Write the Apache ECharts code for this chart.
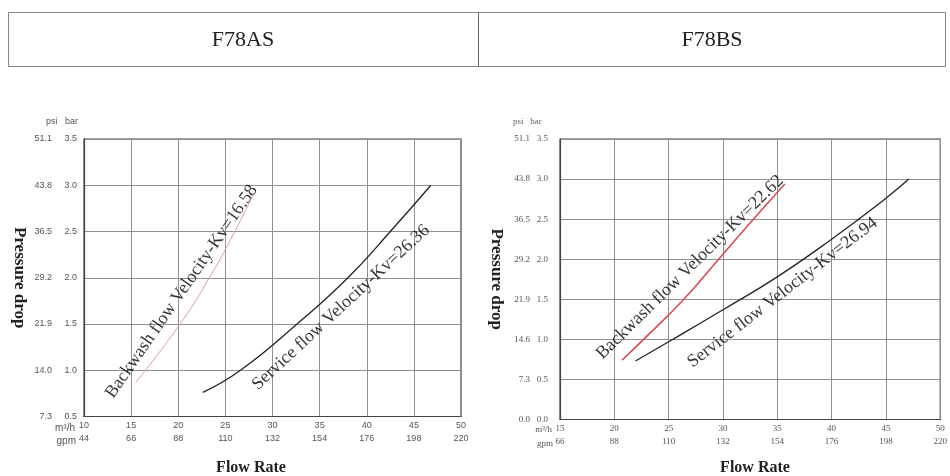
<!DOCTYPE html>
<html>
<head>
<meta charset="utf-8">
<script src="https://cdn.jsdelivr.net/npm/echarts@6/dist/echarts.min.js"></script>
<style>html,body{margin:0;padding:0;background:#fff}#c{width:950px;height:476px}</style>
</head>
<body>
<div id="c"></div>
<script>
// ---- data ----
const panelTitles = ['F78AS', 'F78BS'];
const leftFlowTicks = ['10','15','20','25','30','35','40','45','50'];
const leftGpmTicks = ['44','66','88','110','132','154','176','198','220'];
const leftBarTicks = ['0.5','1.0','1.5','2.0','2.5','3.0','3.5'];
const leftPsiTicks = ['7.3','14.0','21.9','29.2','36.5','43.8','51.1'];
const rightFlowTicks = ['15','20','25','30','35','40','45','50'];
const rightGpmTicks = ['66','88','110','132','154','176','198','220'];
const rightBarTicks = ['0.0','0.5','1.0','1.5','2.0','2.5','3.0','3.5'];
const rightPsiTicks = ['0.0','7.3','14.6','21.9','29.2','36.5','43.8','51.1'];

const leftBackwashFlow = [15.5, 20.2, 23.3, 26.0, 28.1];
const leftBackwashDrop = [0.87, 1.5, 2.0, 2.5, 2.93];
const leftServiceFlow  = [22.6, 26.6, 32.6, 38.0, 42.5, 46.8];
const leftServiceDrop  = [0.76, 1.0, 1.5, 2.0, 2.5, 3.0];
const rightBackwashFlow = [20.7, 22.7, 26.4, 29.6, 32.8, 35.7];
const rightBackwashDrop = [0.74, 1.0, 1.5, 2.0, 2.5, 2.94];
const rightServiceFlow  = [21.95, 25, 30, 35, 40, 45, 47.1];
const rightServiceDrop  = [0.73, 0.97, 1.37, 1.78, 2.25, 2.76, 3.0];

const curveLabels = [
  'Backwash flow Velocity-Kv=16.58', 'Service flow Velocity-Kv=26.36',
  'Backwash flow Velocity-Kv=22.62', 'Service flow Velocity-Kv=26.94'
];
const curveLabelFlow = [20.35, 37.26, 26.96, 35.49];
const curveLabelDrop = [1.85, 1.68, 1.90, 1.585];
const curveLabelAngle = [55.4, 42.7, 44.5, 37.6];

// ---- helpers ----
const zip = (a, b) => a.map((v, i) => [v, b[i]]);
const idx = (v, min, step) => Math.round((v - min) / step);
const SERIF = '"Liberation Serif", "DejaVu Serif", serif';
const SANS = '"Liberation Sans", Arial, sans-serif';

function xAxes(gridIndex, min, flowTicks, gpmTicks, font) {
  const base = {
    gridIndex, type: 'value', min, max: 50, interval: 5,
    axisTick: { show: false }
  };
  return [
    Object.assign({}, base, {
      axisLine: { show: true, lineStyle: { color: '#444', width: 1.2 } },
      splitLine: { show: true, lineStyle: { color: '#8f8f8f', width: 1 } },
      axisLabel: { margin: 5, fontSize: 9, fontFamily: font, color: '#555',
        formatter: v => flowTicks[idx(v, min, 5)] }
    }),
    Object.assign({}, base, {
      position: 'bottom', offset: 13,
      axisLine: { show: false }, splitLine: { show: false },
      axisLabel: { margin: 5, fontSize: 9, fontFamily: font, color: '#555',
        formatter: v => gpmTicks[idx(v, min, 5)] }
    })
  ];
}
function yAxes(gridIndex, min, barTicks, psiTicks, font, barMargin, psiOffset, nameGap) {
  const base = { gridIndex, type: 'value', min, max: 3.5, interval: 0.5, axisTick: { show: false } };
  return [
    Object.assign({}, base, {
      axisLine: { show: true, lineStyle: { color: '#444', width: 1.2 } },
      splitLine: { show: true, lineStyle: { color: '#8f8f8f', width: 1 } },
      axisLabel: { margin: barMargin, fontSize: 9, fontFamily: font, color: '#555',
        formatter: v => barTicks[idx(v, min, 0.5)] },
      name: 'Pressure drop', nameLocation: 'middle', nameRotate: -90, nameGap,
      nameTextStyle: { fontFamily: SERIF, fontSize: 17, fontWeight: 'bold', color: '#222' }
    }),
    Object.assign({}, base, {
      position: 'left', offset: psiOffset,
      axisLine: { show: false }, splitLine: { show: false },
      axisLabel: { margin: 0, fontSize: 9, fontFamily: font, color: '#555',
        formatter: v => psiTicks[idx(v, min, 0.5)] }
    })
  ];
}
function curveLabelSeries(k, xi, yi) {
  return {
    type: 'scatter', xAxisIndex: xi, yAxisIndex: yi, symbolSize: 0, silent: true,
    data: [[curveLabelFlow[k], curveLabelDrop[k]]],
    label: { show: true, position: 'inside', formatter: curveLabels[k],
      rotate: curveLabelAngle[k], align: 'center', verticalAlign: 'middle',
      fontFamily: SERIF, fontSize: 18, color: '#000' }
  };
}
const lineSeries = (data, xi, yi, color, width) => ({
  type: 'line', xAxisIndex: xi, yAxisIndex: yi, data, smooth: 0.5,
  showSymbol: false, silent: true, lineStyle: { color, width }
});

const chart = echarts.init(document.getElementById('c'), null, { renderer: 'canvas' });
chart.setOption({
  animation: false,
  backgroundColor: '#fff',
  grid: [
    { left: 84, top: 139, width: 377, height: 277.5, show: true, borderColor: '#444', borderWidth: 1.2 },
    { left: 560, top: 139, width: 384, height: 280.5, show: true, borderColor: '#444', borderWidth: 1.2 }
  ],
  xAxis: [].concat(
    xAxes(0, 10, leftFlowTicks, leftGpmTicks, SANS),
    xAxes(1, 15, rightFlowTicks, rightGpmTicks, SERIF)
  ),
  yAxis: [].concat(
    yAxes(0, 0.5, leftBarTicks, leftPsiTicks, SANS, 7, 32, 56),
    yAxes(1, 0, rightBarTicks, rightPsiTicks, SERIF, 12, 30, 55)
  ),
  series: [
    lineSeries(zip(leftBackwashFlow, leftBackwashDrop), 0, 0, '#e29a9a', 1),
    lineSeries(zip(leftServiceFlow, leftServiceDrop), 0, 0, '#222', 1.3),
    lineSeries(zip(rightBackwashFlow, rightBackwashDrop), 2, 2, '#d9474a', 1.5),
    lineSeries(zip(rightServiceFlow, rightServiceDrop), 2, 2, '#222', 1.3),
    curveLabelSeries(0, 0, 0),
    curveLabelSeries(1, 0, 0),
    curveLabelSeries(2, 2, 2),
    curveLabelSeries(3, 2, 2)
  ],
  graphic: [
    { type: 'rect', shape: { x: 8.5, y: 12.5, width: 937, height: 54 },
      style: { fill: 'none', stroke: '#888', lineWidth: 1 } },
    { type: 'line', shape: { x1: 478.5, y1: 12.5, x2: 478.5, y2: 66.5 },
      style: { stroke: '#666', lineWidth: 1 } },
    { type: 'text', x: 243, y: 40, style: { text: panelTitles[0], font: '22px ' + SERIF,
      fill: '#222', align: 'center', verticalAlign: 'middle' } },
    { type: 'text', x: 712, y: 40, style: { text: panelTitles[1], font: '22px ' + SERIF,
      fill: '#222', align: 'center', verticalAlign: 'middle' } },
    { type: 'text', x: 251, y: 468, style: { text: 'Flow Rate', font: 'bold 16px ' + SERIF,
      fill: '#222', align: 'center', verticalAlign: 'middle' } },
    { type: 'text', x: 755, y: 468, style: { text: 'Flow Rate', font: 'bold 16px ' + SERIF,
      fill: '#222', align: 'center', verticalAlign: 'middle' } },
    { type: 'text', x: 46, y: 122, style: { text: 'psi   bar', font: '9px ' + SANS,
      fill: '#555', align: 'left', verticalAlign: 'middle' } },
    { type: 'text', x: 513, y: 122, style: { text: 'psi   bar', font: '9px ' + SERIF,
      fill: '#666', align: 'left', verticalAlign: 'middle' } },
    { type: 'text', x: 75, y: 428, style: { text: 'm³/h', font: '10px ' + SANS,
      fill: '#555', align: 'right', verticalAlign: 'middle' } },
    { type: 'text', x: 76, y: 441, style: { text: 'gpm', font: '10px ' + SANS,
      fill: '#555', align: 'right', verticalAlign: 'middle' } },
    { type: 'text', x: 552, y: 430, style: { text: 'm³/h', font: '9px ' + SERIF,
      fill: '#555', align: 'right', verticalAlign: 'middle' } },
    { type: 'text', x: 553, y: 444, style: { text: 'gpm', font: '9px ' + SERIF,
      fill: '#555', align: 'right', verticalAlign: 'middle' } }
  ]
});
</script>
</body>
</html>
